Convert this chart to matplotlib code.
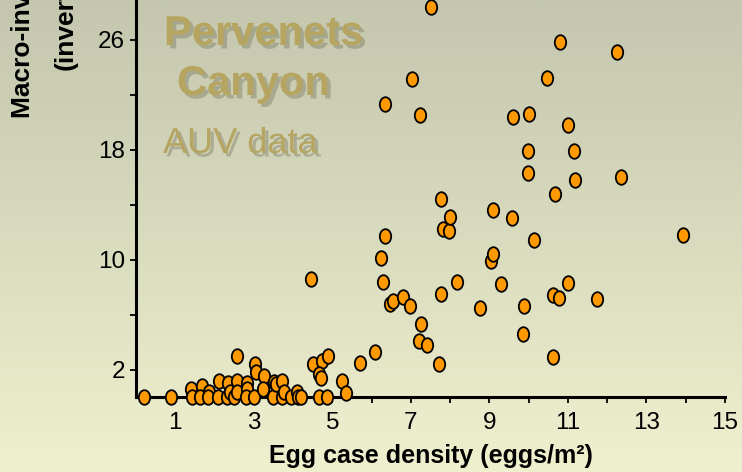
import numpy as np
import matplotlib
matplotlib.use("Agg")
import matplotlib.pyplot as plt
from matplotlib.path import Path
from matplotlib.transforms import Affine2D
import matplotlib.patheffects as pe

plt.rcParams['font.family'] = ['Liberation Sans', 'DejaVu Sans']

# ---- data ----
egg_density = [0.21, 0.89, 1.39, 1.42, 1.67, 1.63, 1.87, 1.84, 2.10, 2.11, 2.35, 2.33,
               2.39, 2.50, 2.56, 2.58, 2.56, 2.82, 2.82, 2.80, 3.00, 3.03, 3.06, 3.26,
               3.24, 3.50, 3.51, 3.56, 3.71, 3.73, 3.78, 3.94, 4.09, 4.12, 4.20, 4.50,
               4.73, 4.90, 4.67, 4.70, 4.67, 4.86, 5.24, 5.35, 5.70, 6.09,
               4.45, 6.23, 6.28, 6.34, 6.34, 6.47, 6.55, 6.81, 6.98, 7.02, 7.23, 7.26,
               7.20, 7.41, 7.51, 7.72, 7.76, 7.76, 7.83, 7.98, 8.00, 8.17, 8.76, 9.04,
               9.08, 9.08, 9.29, 9.58, 9.61, 9.86, 9.88, 9.98, 9.98, 10.01, 10.14, 10.47,
               10.61, 10.63, 10.68, 10.76, 10.80, 11.00, 11.01, 11.15, 11.18, 11.75,
               12.24, 12.35, 13.94]
invert_density = [0, 0, 0.55, 0, 0.8, 0, 0.4, 0, 0, 1.16, 1.0, 0,
                  0.4, 0, 1.2, 0.4, 3.0, 1.0, 0.58, 0, 0, 2.4, 1.8, 1.5,
                  0.58, 0, 1.1, 0.95, 1.2, 0, 0.34, 0, 0.34, 0, 0, 2.4,
                  2.6, 3.0, 1.7, 1.4, 0, 0, 1.2, 0.3, 2.5, 3.3,
                  8.56, 10.1, 8.4, 11.7, 21.3, 6.8, 7.0, 7.3, 6.6, 23.1, 20.5, 5.3,
                  4.1, 3.8, 28.4, 2.4, 7.5, 14.4, 12.2, 12.1, 13.1, 8.4, 6.5, 9.9,
                  10.4, 13.6, 8.2, 13.0, 20.4, 4.6, 6.6, 17.9, 16.3, 20.6, 11.4, 23.2,
                  2.9, 7.4, 14.8, 7.2, 25.8, 19.8, 8.3, 17.9, 15.8, 7.1,
                  25.1, 16.0, 11.8]
x_ticks = list(range(1, 16))
x_labels = [str(v) if v % 2 == 1 else '' for v in x_ticks]
y_ticks = [2, 6, 10, 14, 18, 22, 26]
y_labels = ['2', '', '10', '', '18', '', '26']

W, H = 742, 472
fig = plt.figure(figsize=(W / 100, H / 100), dpi=100)

# gradient background
bg = fig.add_axes([0, 0, 1, 1], zorder=-10)
top = np.array([196, 198, 174]) / 255.0
bot = np.array([238, 240, 206]) / 255.0
t = np.linspace(0, 1, 256)[:, None]
grad = top[None, :] * (1 - t) + bot[None, :] * t
img = np.repeat(grad[:, None, :], 8, axis=1)
# slightly warmer/lighter toward left
bg.imshow(img, aspect='auto', extent=[0, 1, 0, 1], origin='upper')
bg.set_axis_off()

ax = fig.add_axes([136 / W, (H - 397) / H, (725 - 136) / W, 397 / H])
ax.set_facecolor('none')
ax.set_xlim(0, 15)
ax.set_ylim(0, 397 / 13.75)

ell = Path.unit_circle().transformed(Affine2D().scale(0.78, 1.0))
ax.plot(egg_density, invert_density, linestyle='none', marker=ell, markersize=10.5,
        markerfacecolor='#ff9900', markeredgecolor='black', markeredgewidth=1.3,
        clip_on=False, zorder=5)

for s in ['top', 'right']:
    ax.spines[s].set_visible(False)
for s in ['left', 'bottom']:
    ax.spines[s].set_linewidth(2.2)
    ax.spines[s].set_color('black')

ax.set_xticks(x_ticks)
ax.set_xticklabels(x_labels)
ax.set_yticks(y_ticks)
ax.set_yticklabels(y_labels)
ax.tick_params(axis='both', direction='out', length=4, width=1.3, labelsize=17.5,
               colors='black')
ax.tick_params(axis='x', pad=7)
ax.tick_params(axis='y', pad=4)

fig.text(431 / W, 1 - 456 / H, 'Egg case density (eggs/m²)', ha='center', va='center',
         fontsize=18, fontweight='bold')

fig.text(23 / W, 1 - 118 / H, 'Macro-invertebrate density', rotation=90,
         ha='center', va='bottom', fontsize=19, fontweight='bold')
fig.text(66 / W, 1 - 70 / H, '(invertebrates/m²)', rotation=90,
         ha='center', va='bottom', fontsize=19, fontweight='bold')

tan = '#b5a560'
shadow = [pe.withSimplePatchShadow(offset=(2.5, -2.5), shadow_rgbFace='#7d7d66', alpha=0.45)]
fig.text(164 / W, 1 - 45 / H, 'Pervenets', ha='left', va='baseline', fontsize=30,
         fontweight='bold', color=tan, path_effects=shadow)
fig.text(177 / W, 1 - 95 / H, 'Canyon', ha='left', va='baseline', fontsize=30,
         fontweight='bold', color=tan, path_effects=shadow)
fig.text(163 / W, 1 - 153 / H, 'AUV data', ha='left', va='baseline', fontsize=26,
         color=tan, path_effects=shadow)

fig.savefig('out.png', dpi=100)
